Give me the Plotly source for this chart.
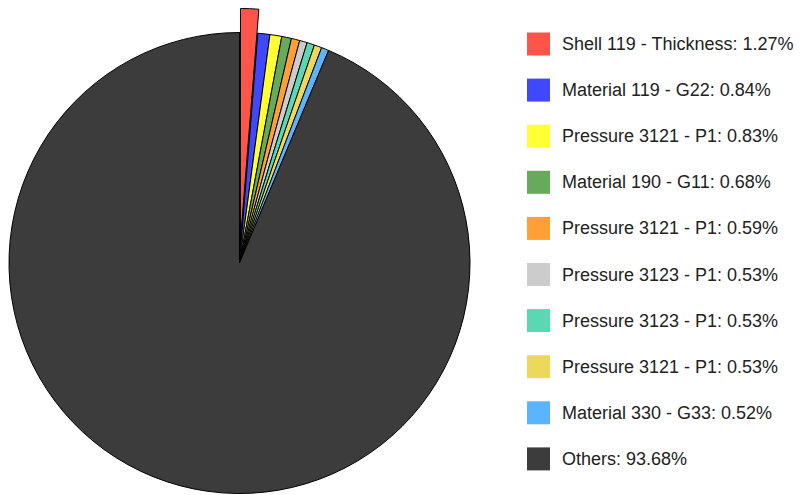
import plotly.graph_objects as go

# ---- data ----
labels = ["Shell 119 - Thickness", "Material 119 - G22", "Pressure 3121 - P1",
          "Material 190 - G11", "Pressure 3121 - P1", "Pressure 3123 - P1",
          "Pressure 3123 - P1", "Pressure 3121 - P1", "Material 330 - G33", "Others"]
values = [1.27, 0.84, 0.83, 0.68, 0.59, 0.53, 0.53, 0.53, 0.52, 93.68]
colors = ["#FF5548", "#4048FF", "#FFFF33", "#66AA5A", "#FFA035",
          "#CCCCCC", "#5AD8B4", "#EED85A", "#5AB4FF", "#3C3C3C"]

W, H = 807, 495
slice_ids = [f"{i}: {lab}" for i, lab in enumerate(labels)]  # unique ids (labels repeat)


def dom(cx, cy, r):
    return dict(x=[(cx - r) / W, (cx + r) / W], y=[1 - (cy + r) / H, 1 - (cy - r) / H])


R = 230.5
CX, CY = 239.5, 263.0
PULL_DX, PULL_DY = 1.0, -24.0

# main pie: the exploded slice's original place shows black
main_colors = ["#000000"] + colors[1:]
fig = go.Figure()
fig.add_trace(go.Pie(
    labels=slice_ids, values=values, sort=False, direction="clockwise", rotation=0,
    marker=dict(colors=main_colors, line=dict(color="#000000", width=1)),
    textinfo="none", hoverinfo="text", hovertext=labels, showlegend=False,
    domain=dom(CX, CY, R),
))

# exploded first slice drawn as a shifted copy
b_colors = [colors[0]] + ["rgba(0,0,0,0)"] * (len(values) - 1)
b_widths = [1] + [0] * (len(values) - 1)
fig.add_trace(go.Pie(
    labels=slice_ids, values=values, sort=False, direction="clockwise", rotation=0,
    marker=dict(colors=b_colors, line=dict(color="#000000", width=b_widths)),
    textinfo="none", hoverinfo="skip", showlegend=False,
    domain=dom(CX + PULL_DX, CY + PULL_DY, R),
))

# legend (manual, to match box size and row spacing)
shapes, annos = [], []
y0, step, box = 44.0, 46.1, 23
for i, (lab, val, col) in enumerate(zip(labels, values, colors)):
    yc = y0 + i * step
    shapes.append(dict(type="rect", xref="paper", yref="paper",
                       x0=527 / W, x1=(527 + box) / W,
                       y0=1 - (yc + box / 2) / H, y1=1 - (yc - box / 2) / H,
                       fillcolor=col, line=dict(width=0)))
    annos.append(dict(xref="paper", yref="paper", x=560 / W, y=1 - yc / H,
                      xanchor="left", yanchor="middle", showarrow=False,
                      text=f"{lab}: {val:.2f}%",
                      font=dict(family="Liberation Sans, Arial, sans-serif", size=18, color="#222222")))

fig.update_layout(width=W, height=H, margin=dict(l=0, r=0, t=0, b=0),
                  paper_bgcolor="white", plot_bgcolor="white",
                  shapes=shapes, annotations=annos, showlegend=False)
fig.write_html("out.html", config={"displayModeBar": False},
               post_script="document.body.style.margin='0';document.body.style.overflow='hidden';")
